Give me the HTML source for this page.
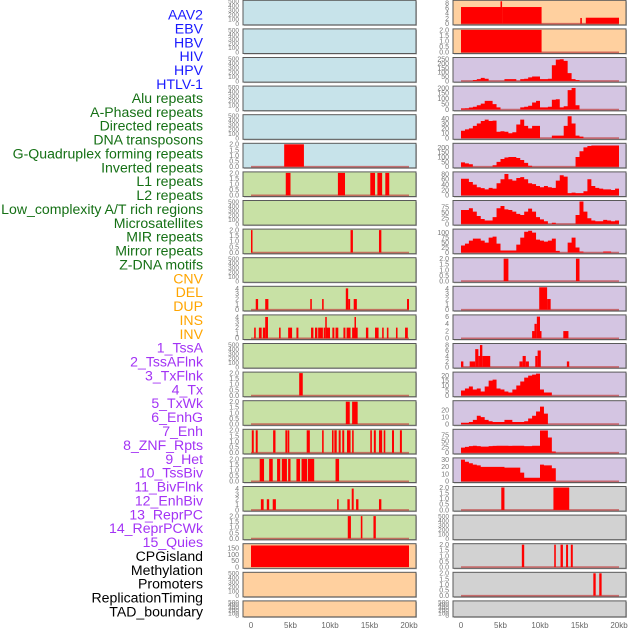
<!DOCTYPE html>
<html><head><meta charset="utf-8"><style>
html,body{margin:0;padding:0;background:#fff;}
svg{display:block;font-family:"Liberation Sans",sans-serif;}
</style></head><body>
<svg id="chart" width="630" height="630" viewBox="0 0 630 630" xmlns="http://www.w3.org/2000/svg">
<g id="labels"></g>
<g id="panels"></g>
<g id="xaxes"></g>
</svg>
<script>
const trackNames = ["AAV2","EBV","HBV","HIV","HPV","HTLV-1","Alu repeats","A-Phased repeats","Directed repeats","DNA transposons","G-Quadruplex forming repeats","Inverted repeats","L1 repeats","L2 repeats","Low_complexity A/T rich regions","Microsatellites","MIR repeats","Mirror repeats","Z-DNA motifs","CNV","DEL","DUP","INS","INV","1_TssA","2_TssAFlnk","3_TxFlnk","4_Tx","5_TxWk","6_EnhG","7_Enh","8_ZNF_Rpts","9_Het","10_TssBiv","11_BivFlnk","12_EnhBiv","13_ReprPC","14_ReprPCWk","15_Quies","CPGisland","Methylation","Promoters","ReplicationTiming","TAD_boundary"];
const trackGroups = [0,0,0,0,0,0,1,1,1,1,1,1,1,1,1,1,1,1,1,2,2,2,2,2,3,3,3,3,3,3,3,3,3,3,3,3,3,3,3,4,4,4,4,4];
const xTicks = [0,5,10,15,20];
const xTickLabels = ["0","5kb","10kb","15kb","20kb"];

const T_EMPTY=[0,100,200,300,400,500], T_2=[0,0.5,1,1.5,2], T_4=[0,1,2,3,4];

const L5=[[4.2,6.7,2]];
const L6=[[4.4,5.0,2],[11.0,11.9,2],[15.1,15.7,2],[16.0,16.6,2],[17.0,17.5,2]];
const L8=[[0,0.12,2],[12.6,12.9,2],[16.2,16.5,2]];
const L10=[[0.6,0.9,2],[1.8,2.2,2],[7.5,7.7,2],[9.0,9.2,2],[12.0,12.3,4],[12.3,12.55,2],[13.0,13.4,2],[19.75,20,2]];
const L11=[[0.4,0.6,2],[1.0,1.35,2],[1.5,1.8,2],[1.8,2.15,4],[3.55,3.75,2],[4.7,5.2,2],[5.75,6.0,2],[7.6,7.9,2],[8.1,8.4,2],[8.5,9.1,2],[9.2,9.4,2],[9.4,9.55,4],[9.55,10.0,2],[10.3,10.55,2],[10.7,11.05,2],[11.7,11.95,2],[12.1,12.6,2],[12.8,13.1,2],[13.1,13.25,4],[13.25,13.5,2],[14.55,14.85,2],[15.7,16.15,2],[16.6,16.8,2],[17.2,17.4,2],[18.35,18.55,2],[19.5,19.85,2]];
const L13=[[6.1,6.55,2]];
const L14=[[12.0,12.5,2],[12.8,13.5,2]];
const L15=[[0.1,0.35,2],[0.6,0.85,2],[2.8,3.1,2],[4.35,4.6,2],[4.65,4.85,2],[7.05,7.45,2],[9.0,9.2,2],[10.25,10.45,2],[10.55,10.85,2],[11.1,11.35,2],[11.55,11.8,2],[12.15,12.6,2],[12.8,13.0,2],[15.1,15.3,2],[15.55,15.8,2],[16.2,16.6,2],[16.8,17.0,2],[17.85,18.1,2],[18.85,19.1,2]];
const L16=[[1.1,1.65,2],[2.3,2.75,2],[3.3,3.7,2],[3.9,4.55,2],[4.7,5.0,2],[5.75,6.2,2],[6.4,7.1,2],[7.2,8.0,2],[10.7,11.15,2]];
const L17=[[1.25,1.6,2],[2.0,2.3,2],[2.75,3.15,2],[10.9,11.1,2],[12.2,12.5,2],[12.75,13.0,4],[13.3,13.6,2],[16.2,16.5,2]];
const L18=[[12.25,12.65,2],[13.9,14.1,2],[15.5,15.8,2]];
const L19=[[0,20,172]];

const R0=[[0,5.0,6.4],[5.0,5.2,8.6],[5.2,10.2,6.4],[15.1,15.3,2.2],[15.8,20,2.3]];
const R1=[[0,10.2,2]];
const R9=[[5.4,6.0,2],[14.55,15.0,2]];
const R10=[[9.9,10.9,4.2],[10.9,11.35,2]];
const R11=[[9.0,9.3,2],[9.3,9.6,4],[9.6,10.0,6],[10.0,10.15,2],[12.95,13.6,2]];
const R12=[[0,0.3,2],[1.1,1.8,2],[1.8,2.2,6.5],[2.2,2.4,4],[2.4,2.7,8],[2.7,3.7,4],[7.4,7.8,2],[7.8,8.2,4],[8.2,8.6,2],[9.4,9.7,4],[9.7,10.1,6],[13.4,13.7,2]];
const R17=[[5.1,5.5,2],[11.7,13.7,2]];
const R19=[[7.7,8.0,2],[11.8,12.0,2],[12.6,12.9,2],[13.3,13.55,2],[13.9,14.15,2]];
const R20=[[16.75,17.05,2],[17.5,17.8,2]];

const R2=[0,0,0,10,20,35,25,0,0,0,0,20,20,20,0,20,25,40,50,50,20,20,25,180,245,250,230,90,20,10,0,0,0,0,0,0,0,0,0,0];
const R3=[10,12,18,25,40,55,80,80,50,20,0,0,0,0,0,20,25,35,65,80,20,20,25,90,95,20,30,180,200,40,0,0,0,0,0,0,0,0,0,0];
const R4=[15,18,20,25,30,35,38,35,36,13,14,13,10,12,28,38,25,20,25,25,0,0,0,5,5,5,25,45,30,5,3,0,0,0,0,0,0,0,0,0];
const R5=[45,35,25,0,0,0,0,0,15,50,80,95,100,100,90,70,40,10,0,0,0,0,0,0,0,0,0,0,0,100,160,200,215,220,220,220,220,220,220,220];
const R6=[62,62,50,40,30,27,22,28,25,45,60,80,60,55,65,68,60,45,42,35,30,35,30,28,55,75,70,8,10,8,8,15,60,35,28,25,22,22,20,25];
const R7=[62,62,70,55,35,22,15,15,30,70,80,65,62,55,45,40,55,68,55,30,20,12,0,5,0,0,0,0,0,40,100,55,25,15,12,12,18,15,12,15];
const R8=[35,45,60,70,70,60,50,75,80,45,10,10,10,10,40,75,105,110,100,65,60,55,60,70,8,0,0,50,75,25,5,0,0,0,0,0,5,5,0,0];
const R13=[5,7,9,6,7,4,9,15,16,7,6,4,3,6,10,14,18,20,21,22,6,3,3,0,0,0,0,0,0,0,0,0,0,0,0,0,0,0,0,0];
const R14=[2,2,3,6,12,10,6,4,3,3,3,6,6,3,3,3,4,8,12,18,25,15,0,0,0,0,0,0,0,0,0,0,0,0,0,0,0,0,0,0];
const R15=[22,25,28,30,28,26,26,28,29,30,30,30,29,30,30,30,28,28,30,30,95,95,65,5,0,0,0,0,0,0,0,0,0,0,0,0,0,0,0,0];
const R16=[30,27,25,23,22,20,20,20,20,20,20,19,19,19,19,12,5,5,5,5,23,22,22,18,0,0,0,0,0,0,0,0,0,0,0,0,0,0,0,0];

const BLUE="#c7e3ea", GREEN="#c8e1a5", PEACH="#ffd09f", LAV="#d4c5e2", GRAY="#d2d2d2";
const leftRows=[
 {bg:BLUE,t:T_EMPTY,m:500},{bg:BLUE,t:T_EMPTY,m:500},{bg:BLUE,t:T_EMPTY,m:500},{bg:BLUE,t:T_EMPTY,m:500},{bg:BLUE,t:T_EMPTY,m:500},
 {bg:BLUE,t:T_2,m:2,s:L5},{bg:GREEN,t:T_2,m:2,s:L6},{bg:GREEN,t:T_EMPTY,m:500},{bg:GREEN,t:T_2,m:2,s:L8},{bg:GREEN,t:T_EMPTY,m:500},
 {bg:GREEN,t:T_4,m:4.2,s:L10},{bg:GREEN,t:T_4,m:4.2,s:L11},{bg:GREEN,t:T_EMPTY,m:500},{bg:GREEN,t:T_2,m:2,s:L13},{bg:GREEN,t:T_2,m:2,s:L14},
 {bg:GREEN,t:T_2,m:2,s:L15},{bg:GREEN,t:T_2,m:2,s:L16},{bg:GREEN,t:T_4,m:4.2,s:L17},{bg:GREEN,t:T_2,m:2,s:L18},{bg:PEACH,t:[0,50,100,150],m:178,s:L19,nobase:true},
 {bg:PEACH,t:T_EMPTY,m:500},{bg:PEACH,t:T_EMPTY,m:500}];
const rightRows=[
 {bg:PEACH,t:[0,2,4,6,8],m:8.6,s:R0},{bg:PEACH,t:T_2,m:2,s:R1},{bg:LAV,t:[0,50,100,150,200,250],m:258,b:R2},{bg:LAV,t:[0,50,100,150,200],m:208,b:R3},{bg:LAV,t:[0,10,20,30,40],m:46,b:R4},
 {bg:LAV,t:[0,50,100,150,200],m:232,b:R5},{bg:LAV,t:[0,20,40,60,80],m:84,b:R6},{bg:LAV,t:[0,25,50,75],m:100,b:R7},{bg:LAV,t:[0,25,50,75,100],m:113,b:R8},{bg:LAV,t:T_2,m:2,s:R9},
 {bg:LAV,t:T_4,m:4.2,s:R10},{bg:LAV,t:[0,2,4,6],m:6.2,s:R11},{bg:LAV,t:[0,2,4,6,8],m:8.2,s:R12},{bg:LAV,t:[0,5,10,15,20],m:22.5,b:R13},{bg:LAV,t:[0,10,20],m:32,b:R14},
 {bg:LAV,t:[0,25,50,75],m:96,b:R15},{bg:LAV,t:[0,10,20,30],m:31,b:R16},{bg:GRAY,t:T_2,m:2,s:R17},{bg:GRAY,t:T_EMPTY,m:500},{bg:GRAY,t:T_2,m:2,s:R19},
 {bg:GRAY,t:T_2,m:2,s:R20},{bg:GRAY,t:T_EMPTY,m:500}];

const NS="http://www.w3.org/2000/svg";
function mk(tag,attrs,parent){const e=document.createElementNS(NS,tag);for(const k in attrs)e.setAttribute(k,attrs[k]);parent.appendChild(e);return e;}

const colors=["#1a1aff","#157015","#ffa500","#a333f5","#000000"];
const lg=document.getElementById('labels');
trackNames.forEach((n,i)=>{
  const t=mk('text',{x:203,y:(19.6+i*13.88).toFixed(1),'text-anchor':'end','font-size':'14.1',fill:colors[trackGroups[i]]},lg);
  t.textContent=n;
  
  
});

const pg=document.getElementById('panels');
function drawCol(rows,px,pw,x0,colName){
  const xs=kb=>x0+kb*7.9;
  rows.forEach((r,k)=>{
    const top=k*28.6+0.3, h=(k===21?16:24.6);
    const g=mk('g',{},pg);
    
    
    mk('rect',{x:px+1,y:top+1,width:pw,height:h,fill:'#bbb'},g);
    mk('rect',{x:px,y:top,width:pw,height:h,fill:r.bg,stroke:'#5a5a5a','stroke-width':1},g);
    const y0=top+h-1.2, y1=top+1;
    const ys=v=>y0-(v/r.m)*(y0-y1);
    const hasData=r.s||r.b;
    if(hasData&&!r.nobase){
      const bl=mk('line',{x1:xs(0),x2:xs(20),y1:y0,y2:y0,stroke:'#c04040','stroke-width':1.6,'stroke-opacity':0.7},g);
      
      
    }
    if(r.s){r.s.forEach(s=>{
      const b=mk('rect',{x:xs(s[0]).toFixed(2),y:ys(s[2]).toFixed(2),width:Math.max(1.5,xs(s[1])-xs(s[0])).toFixed(2),height:(y0-ys(s[2])).toFixed(2),fill:'#ff0000'},g);
      
      
    });}
    if(r.b){
      let d='M'+xs(0)+','+y0;
      r.b.forEach((v,i)=>{d+=' L'+xs(i*0.5).toFixed(2)+','+ys(v).toFixed(2)+' L'+xs(i*0.5+0.5).toFixed(2)+','+ys(v).toFixed(2);});
      d+=' L'+xs(20)+','+y0+' Z';
      const a=mk('path',{d:d,fill:'#ff0000'},g);
      
      
    }
    const fs=(r.t===T_EMPTY)?6.5:7;
    r.t.forEach(v=>{
      if(ys(v)<top-3) return;
      const tt=mk('text',{x:px-4,y:(ys(v)+2.4).toFixed(1),'text-anchor':'end','font-size':fs,fill:'#777'},g);
      tt.textContent=(r.t===T_2)?v.toFixed(1):String(v);
      
      
    });
  });
  const xg=document.getElementById('xaxes');
  xTicks.forEach((v,i)=>{
    const t=mk('text',{x:xs(v),y:628,'text-anchor':'middle','font-size':8,fill:'#666'},xg);
    t.textContent=xTickLabels[i];
    
    
  });
}
drawCol(leftRows,243,173,251,'left');
drawCol(rightRows,453,173,461,'right');
</script>
</body></html>
